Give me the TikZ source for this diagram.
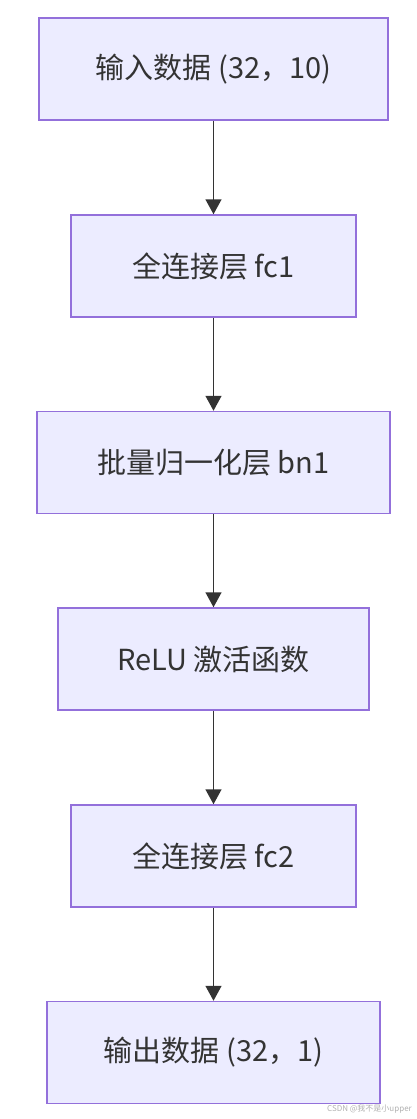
\documentclass[tikz,border=0pt]{standalone}
\usepackage{fontspec}
\setmainfont{Noto Sans CJK SC}
\usetikzlibrary{arrows.meta}
\definecolor{boxfill}{HTML}{ECECFF}
\definecolor{boxline}{HTML}{9370DB}
\definecolor{edge}{HTML}{333333}
\definecolor{wm}{HTML}{B0B0B0}
\begin{document}
\begin{tikzpicture}[x=1pt,y=-1pt,
  stage/.style={draw=boxline,fill=boxfill,line width=1.5pt,minimum height=102pt,
    inner sep=0pt,text=edge,font=\fontsize{29}{34}\selectfont},
  flow/.style={draw=edge,line width=1.5pt,-{Triangle[width=16pt,length=15pt]}}]
\useasboundingbox (0,0) rectangle (416,1119);
\node[stage,minimum width=349pt] (a) at (213.5,69) {输入数据 (32，10)};
\node[stage,minimum width=285pt] (b) at (213.5,266) {全连接层 fc1};
\node[stage,minimum width=353pt] (c) at (213.5,462.5) {批量归一化层 bn1};
\node[stage,minimum width=311pt] (d) at (213.5,659) {ReLU 激活函数};
\node[stage,minimum width=285pt] (e) at (213.5,856) {全连接层 fc2};
\node[stage,minimum width=333pt] (f) at (213.5,1052.5) {输出数据 (32，1)};
\draw[flow] (a) -- (b);
\draw[flow] (b) -- (c);
\draw[flow] (c) -- (d);
\draw[flow] (d) -- (e);
\draw[flow] (e) -- (f);
\node[text=wm,font=\fontsize{8}{9}\selectfont,anchor=east,inner sep=0pt] (w) at (412,1109) {CSDN @我不是小upper};
\end{tikzpicture}
\end{document}
